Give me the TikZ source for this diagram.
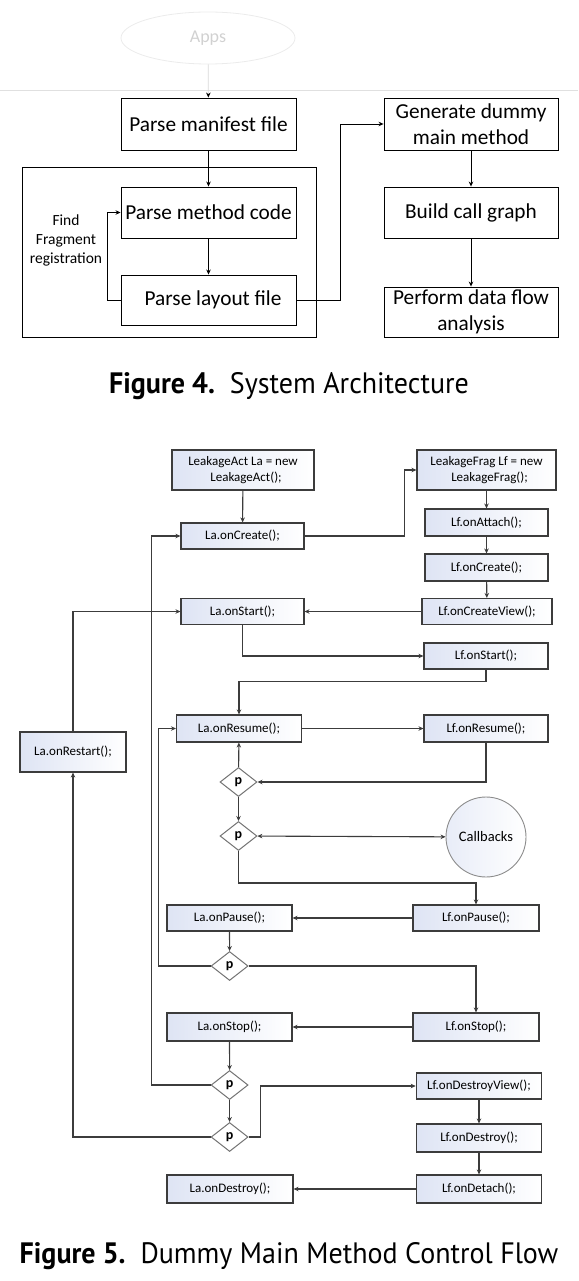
\documentclass[tikz,border=0pt]{standalone}
\usepackage{fontspec}
\setmainfont{Carlito}
\newfontfamily\capfont[FakeStretch=0.95]{PT Sans}
\usetikzlibrary{shapes.geometric, arrows.meta}
\definecolor{boxtint}{RGB}{222,228,244}
\definecolor{linegray}{RGB}{60,60,60}

\begin{document}
\begin{tikzpicture}[x=1pt, y=-1pt,
    >={Stealth[length=5pt,width=4.5pt]},
    archbox/.style={draw=black, line width=0.9pt, fill=white, inner sep=0pt, align=center,
      minimum width=175pt, font=\fontsize{21.3}{26}\selectfont},
    flowbox/.style={draw=linegray, line width=1.1pt, left color=boxtint, right color=white,
      inner sep=0pt, align=center, font=\fontsize{13}{16}\selectfont},
    cond/.style={diamond, draw=black!55, line width=1pt, fill=white, inner sep=0pt,
      minimum width=37pt, minimum height=29pt, font=\bfseries\fontsize{14}{14}\selectfont},
    flow/.style={->, draw=linegray, line width=1.1pt},
    arch/.style={->, draw=black, line width=0.9pt},
    caption/.style={font=\capfont\fontsize{29.5}{32}\selectfont}]
  \useasboundingbox (0,0) rectangle (578,1281);

  %% System Architecture
  \node[ellipse, draw=black!8, line width=0.8pt, minimum width=174pt, minimum height=52pt,
    text=black!18, font=\fontsize{18}{18}\selectfont] (apps) at (208,38) {Apps};
  \draw[black!12, line width=1.2pt] (0,90.5) -- (578,90.5);
  \node[archbox, minimum height=52pt] (manifest) at (208.5,124) {Parse manifest file};
  \draw[line width=0.9pt] (22,167) rectangle (316,337);
  \node[archbox, minimum height=51pt] (methodcode) at (208.5,212.5) {Parse method code};
  \node[archbox, minimum height=50pt] (layout) at (208.5,300) {\hspace*{9pt}Parse layout file};
  \node[align=center, font=\fontsize{15.5}{19}\selectfont] (findfrag) at (66,240)
    {Find\\Fragment\\registration};
  \node[archbox, minimum width=174pt, minimum height=52pt] (gen) at (471,124)
    {Generate dummy\\main method};
  \node[archbox, minimum width=174pt, minimum height=51pt] (callgraph) at (471,212.5)
    {Build call graph};
  \node[archbox, minimum width=174pt, minimum height=50pt] (dataflow) at (471,312)
    {Perform data flow\\analysis};

  \draw[->, black!15, line width=0.8pt, >={Stealth[length=5pt,width=4.5pt,black]}] (apps) -- (manifest);
  \draw[arch] (manifest) -- (methodcode);
  \draw[arch] (methodcode) -- (layout);
  \draw[arch] (layout.west) -- ++(-13,0) |- (methodcode.west);
  \draw[arch] (layout.east) -- ++(44,0) |- (gen.west);
  \draw[arch] (gen) -- (callgraph);
  \draw[arch] (callgraph) -- (dataflow);

  \node[caption] (fig4) at (289,386) {\textbf{Figure 4.}\ \ System Architecture};

  %% Dummy main method control flow
  \node[flowbox, minimum width=142pt, minimum height=40pt] (laNew) at (243,470)
    {LeakageAct La = new\\\hspace*{6pt}LeakageAct();};
  \node[flowbox, minimum width=123pt, minimum height=26pt] (laCreate) at (242.5,536) {La.onCreate();};
  \node[flowbox, minimum width=139pt, minimum height=40pt] (lfNew) at (486.5,470)
    {LeakageFrag Lf = new\\\hspace*{6pt}LeakageFrag();};
  \node[flowbox, minimum width=123pt, minimum height=27pt] (lfAttach) at (486.5,522.5) {Lf.onAttach();};
  \node[flowbox, minimum width=123pt, minimum height=27pt] (lfCreate) at (486.5,567.5) {Lf.onCreate();};
  \node[flowbox, minimum width=130pt, minimum height=26pt] (lfView) at (487,611.5) {Lf.onCreateView();};
  \node[flowbox, minimum width=123pt, minimum height=26pt] (laStart) at (242.5,611.5) {La.onStart();};
  \node[flowbox, minimum width=124pt, minimum height=26pt] (lfStart) at (486,656) {Lf.onStart();};
  \node[flowbox, minimum width=125pt, minimum height=27pt] (laResume) at (239,728.5) {La.onResume();};
  \node[flowbox, minimum width=124pt, minimum height=27pt] (lfResume) at (486,728.5) {Lf.onResume();};
  \node[flowbox, minimum width=106pt, minimum height=40pt] (laRestart) at (73,752) {La.onRestart();};
  \node[cond] (p1) at (238.5,782) {p};
  \node[cond] (p2) at (238.5,836) {p};
  \node[circle, draw=black!45, line width=0.9pt, left color=boxtint!70, right color=white,
    minimum size=80pt, inner sep=0pt, font=\fontsize{14.5}{16}\selectfont] (callbacks) at (486,837) {Callbacks};
  \node[flowbox, minimum width=126pt, minimum height=26pt] (lfPause) at (476,918) {Lf.onPause();};
  \node[flowbox, minimum width=125pt, minimum height=26pt] (laPause) at (229.5,918) {La.onPause();};
  \node[cond] (p3) at (229.6,966) {p};
  \node[flowbox, minimum width=126pt, minimum height=28pt] (lfStop) at (476,1027) {Lf.onStop();};
  \node[flowbox, minimum width=125pt, minimum height=28pt] (laStop) at (229.5,1027) {La.onStop();};
  \node[cond] (p4) at (229.6,1085) {p};
  \node[cond] (p5) at (229.6,1137) {p};
  \node[flowbox, minimum width=125.5pt, minimum height=26pt] (lfDview) at (479,1086) {Lf.onDestroyView();};
  \node[flowbox, minimum width=125.5pt, minimum height=28pt] (lfDestroy) at (479,1138) {Lf.onDestroy();};
  \node[flowbox, minimum width=125.5pt, minimum height=28pt] (lfDetach) at (479,1189) {Lf.onDetach();};
  \node[flowbox, minimum width=126pt, minimum height=28pt] (laDestroy) at (230,1189) {La.onDestroy();};

  \draw[flow] (laNew) -- (laCreate);
  \draw[flow] (laCreate.east) -- ++(100,0) |- (lfNew.west);
  \draw[flow] (lfNew) -- (lfAttach);
  \draw[flow] (lfAttach) -- (lfCreate);
  \draw[flow] (lfCreate) -- (lfView);
  \draw[flow] (lfView) -- (laStart);
  \draw[flow] (laStart.south) |- (lfStart.west);
  \draw[flow] (lfStart.south) -- ++(0,12) -| (laResume.north);
  \draw[flow] (laResume) -- (lfResume);
  \draw[flow] (lfResume.south) |- (p1.east);
  \draw[flow] (p1) -- (laResume);
  \draw[flow] (p1) -- (p2);
  \draw[flow, <->] (p2) -- (callbacks);
  \draw[flow] (p2.south) -- ++(0,32) -| (lfPause.north);
  \draw[flow] (lfPause) -- (laPause);
  \draw[flow] (laPause) -- (p3);
  \draw[flow] (p3.west) -- ++(-52,0) |- (laResume.west);
  \draw[flow] (p3.east) -| (lfStop.north);
  \draw[flow] (lfStop) -- (laStop);
  \draw[flow] (laStop) -- (p4);
  \draw[flow] (p4.west) -- ++(-59,0) |- (laCreate.west);
  \draw[flow] (p4) -- (p5);
  \draw[flow] (p5.west) -| (laRestart.south);
  \draw[flow] (laRestart.north) |- (laStart.west);
  \draw[flow] (p5.east) -- ++(12,0) |- (lfDview.west);
  \draw[flow] (lfDview) -- (lfDestroy);
  \draw[flow] (lfDestroy) -- (lfDetach);
  \draw[flow] (lfDetach) -- (laDestroy);

  \node[caption] (fig5) at (289,1256) {\textbf{Figure 5.}\ \ Dummy Main Method Control Flow};
\end{tikzpicture}
\end{document}
